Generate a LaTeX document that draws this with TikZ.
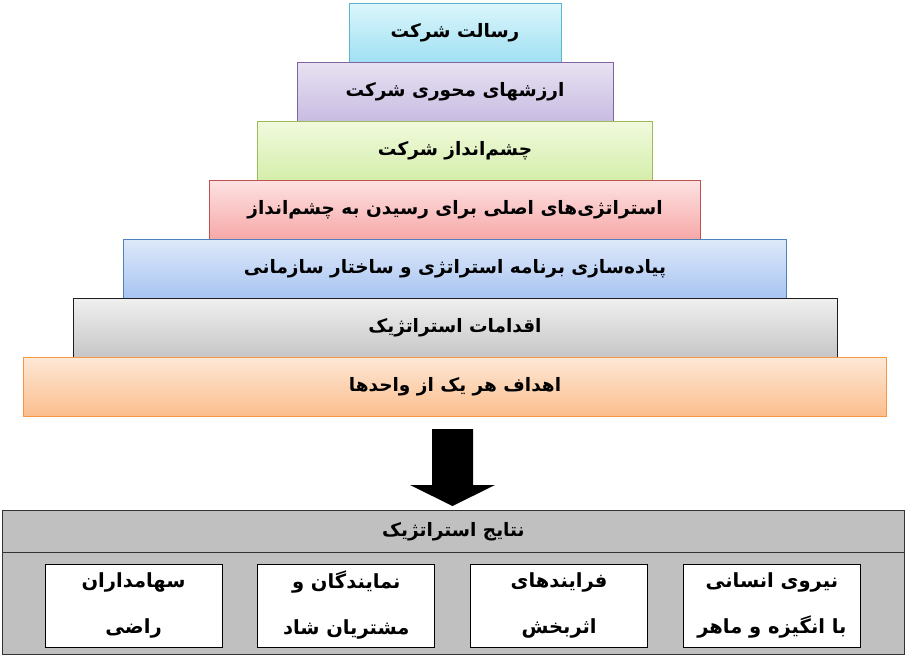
\documentclass[tikz,border=0pt]{standalone}
\usepackage{fontspec}
\newfontfamily\arabicfont[Script=Arabic]{DejaVu Sans}
\TeXXeTstate=1
\usetikzlibrary{positioning}
\definecolor{cyanT}{RGB}{220,246,252}\definecolor{cyanB}{RGB}{160,224,242}\definecolor{cyanD}{RGB}{95,180,205}
\definecolor{violT}{RGB}{232,226,242}\definecolor{violB}{RGB}{200,188,226}\definecolor{violD}{RGB}{128,100,162}
\definecolor{vertT}{RGB}{242,250,222}\definecolor{vertB}{RGB}{212,238,170}\definecolor{vertD}{RGB}{155,187,89}
\definecolor{rougeT}{RGB}{253,226,226}\definecolor{rougeB}{RGB}{247,168,168}\definecolor{rougeD}{RGB}{192,80,77}
\definecolor{bleuT}{RGB}{222,233,249}\definecolor{bleuB}{RGB}{168,196,242}\definecolor{bleuD}{RGB}{79,129,189}
\definecolor{grisT}{RGB}{240,240,240}\definecolor{grisB}{RGB}{198,198,198}\definecolor{grisD}{RGB}{30,30,30}
\definecolor{orangeT}{RGB}{253,232,214}\definecolor{orangeB}{RGB}{251,190,142}\definecolor{orangeD}{RGB}{247,150,70}
\definecolor{fond}{RGB}{192,192,192}

\tikzset{
	etage/.style={draw, line width=0.9pt, minimum height=59pt, inner sep=0pt, outer sep=0pt,
		font=\arabicfont\bfseries\fontsize{18.5}{22}\selectfont},
	resultat/.style={draw=black, fill=white, line width=0.8pt, minimum width=177pt, minimum height=83pt,
		inner sep=0pt, align=center, font=\arabicfont\bfseries\fontsize{19.5}{46}\selectfont},
}

\begin{document}
\begin{tikzpicture}[x=1pt,y=-1pt]
					\useasboundingbox (0,0) rectangle (906,664);
					%PYRAMIDE
					\node[etage, anchor=north, minimum width=212pt, top color=cyanT, bottom color=cyanB, draw=cyanD] (L_1) at (455,3) {\beginR رسالت شرکت\endR};
					\node[etage, below=0pt of L_1, minimum width=316pt, top color=violT, bottom color=violB, draw=violD] (L_2) {\beginR ارزشهای محوری شرکت\endR};
					\node[etage, below=0pt of L_2, minimum width=395pt, top color=vertT, bottom color=vertB, draw=vertD] (L_3) {\beginR چشم‌انداز شرکت\endR};
					\node[etage, below=0pt of L_3, minimum width=491pt, top color=rougeT, bottom color=rougeB, draw=rougeD] (L_4) {\beginR استراتژی‌های اصلی برای رسیدن به چشم‌انداز\endR};
					\node[etage, below=0pt of L_4, minimum width=663pt, top color=bleuT, bottom color=bleuB, draw=bleuD] (L_5) {\beginR پیاده‌سازی برنامه استراتژی و ساختار سازمانی\endR};
					\node[etage, below=0pt of L_5, minimum width=764pt, top color=grisT, bottom color=grisB, draw=grisD] (L_6) {\beginR اقدامات استراتژیک\endR};
					\node[etage, below=0pt of L_6, minimum width=863pt, top color=orangeT, bottom color=orangeB, draw=orangeD] (L_7) {\beginR اهداف هر یک از واحدها\endR};
					%FLECHE
					\fill (432,429) -- (473,429) -- (473,485) -- (495,485) -- (452.5,506) -- (410,485) -- (432,485) -- cycle;
					%RESULTATS
					\node[draw=black!80, fill=fond, line width=0.9pt, minimum width=902pt, minimum height=144pt, anchor=north west] (R) at (2,510) {};
					\node[draw=black!80, line width=0.9pt, minimum width=902pt, minimum height=42pt, anchor=north, font=\arabicfont\bfseries\fontsize{18.5}{22}\selectfont] (T) at (R.north) {\beginR نتایج استراتژیک\endR};
					\node[resultat] (R_1) at (133.5,605.5) {\beginR سهامداران\endR\\\beginR راضی\endR};
					\node[resultat, right=35pt of R_1] (R_2) {\beginR نمایندگان و\endR\\\beginR مشتریان شاد\endR};
					\node[resultat, right=35pt of R_2] (R_3) {\beginR فرایندهای\endR\\\beginR اثربخش\endR};
					\node[resultat, right=35pt of R_3] (R_4) {\beginR نیروی انسانی\endR\\\beginR با انگیزه و ماهر\endR};
				  \end{tikzpicture}
\end{document}
